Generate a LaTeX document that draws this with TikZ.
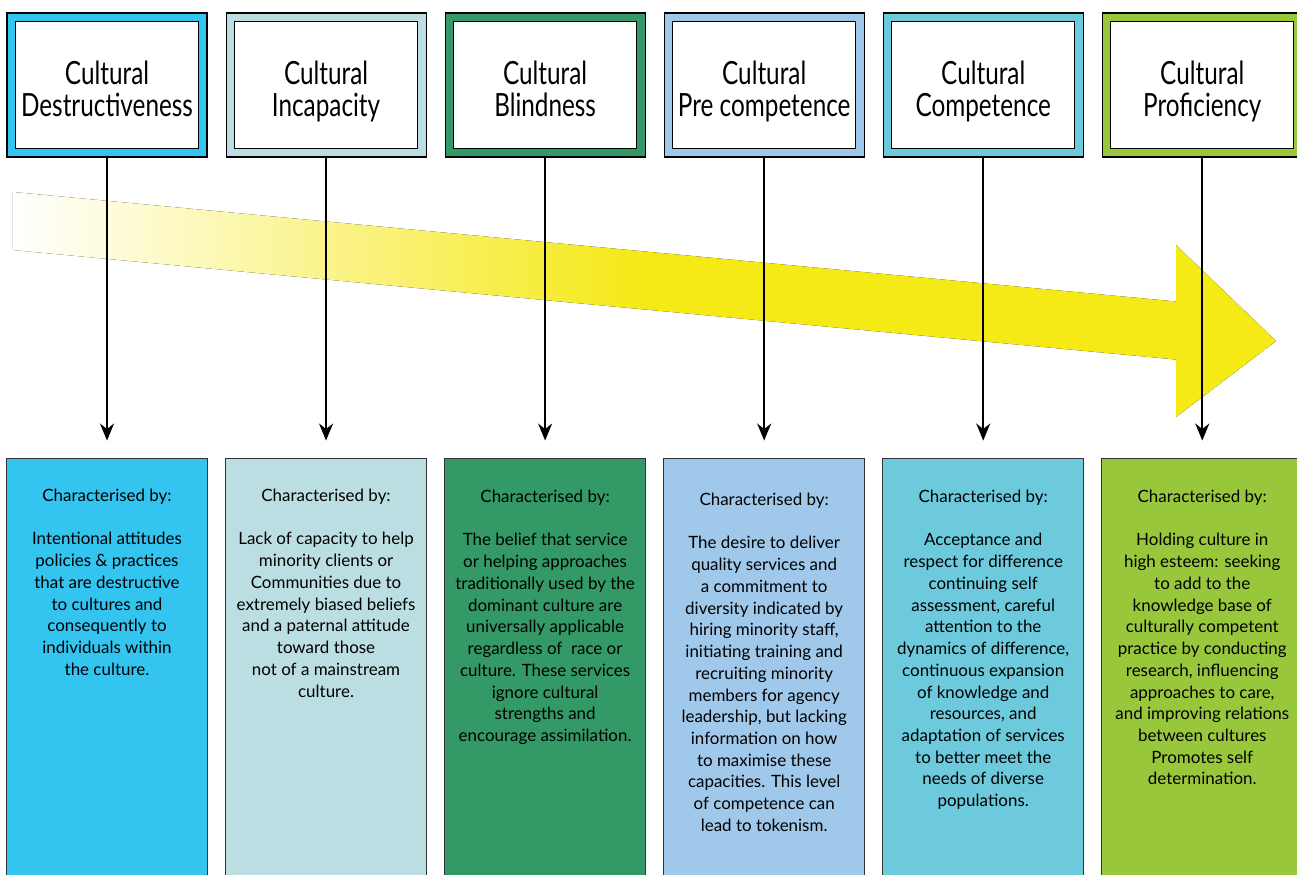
\documentclass[tikz,border=0pt]{standalone}
\usepackage{fontspec}
\setmainfont{Lato}
\newfontfamily\titlefont[FakeStretch=0.76]{Lato}
\usetikzlibrary{positioning,arrows.meta}

\definecolor{destrcol}{HTML}{33C4F0}
\definecolor{incapcol}{HTML}{BBDEE2}
\definecolor{blindcol}{HTML}{339966}
\definecolor{precompcol}{HTML}{9FC8EA}
\definecolor{compcol}{HTML}{6CCADC}
\definecolor{profcol}{HTML}{99C73C}
\definecolor{arrowyellow}{HTML}{F5E916}

\pgfdeclarehorizontalshading{yellowfade}{100bp}{color(0bp)=(white); color(25bp)=(white); color(50bp)=(arrowyellow); color(100bp)=(arrowyellow)}

\begin{document}
\begin{tikzpicture}[node distance=0.36cm,
  frame/.style={draw,line width=0.6pt,minimum width=4cm,minimum height=2.88cm,inner sep=0pt},
  whitebox/.style={draw,fill=white,line width=0.6pt},
  title/.style={align=center,inner sep=0pt,yshift=-0.11cm,text depth=0.25em,font=\titlefont\fontsize{18.2pt}{18.2pt}\selectfont},
  column/.style={draw=black!80,line width=0.6pt,minimum width=4.02cm,minimum height=8.6cm,inner sep=0pt},
  desc/.style={align=center,inner sep=0pt,font=\fontsize{9.64pt}{12.37pt}\selectfont},
  conn/.style={-{Stealth[length=0.34cm,width=0.28cm]},line width=1.1pt}]

\useasboundingbox (0,0) rectangle (25.94,-17.48);

% big yellow arrow
\fill[shading=yellowfade] (0.26,-3.84) -- (23.52,-6.03) -- (23.52,-4.90) -- (25.52,-6.82)
  -- (23.52,-8.34) -- (23.52,-7.19) -- (0.26,-5.00) -- cycle;

% top frames
\node[frame,fill=destrcol] (f1) at (2.14,-1.70) {};
\node[frame,fill=incapcol] (f2) [right=of f1] {};
\node[frame,fill=blindcol] (f3) [right=of f2] {};
\node[frame,fill=precompcol] (f4) [right=of f3] {};
\node[frame,fill=compcol] (f5) [right=of f4] {};
\node[frame,fill=profcol] (f6) [right=of f5] {};

\draw[whitebox] ([shift={(0.18,-0.18)}]f1.north west) rectangle ([shift={(-0.18,0.18)}]f1.south east);
\draw[whitebox] ([shift={(0.18,-0.18)}]f2.north west) rectangle ([shift={(-0.18,0.18)}]f2.south east);
\draw[whitebox] ([shift={(0.18,-0.18)}]f3.north west) rectangle ([shift={(-0.18,0.18)}]f3.south east);
\draw[whitebox] ([shift={(0.18,-0.18)}]f4.north west) rectangle ([shift={(-0.18,0.18)}]f4.south east);
\draw[whitebox] ([shift={(0.18,-0.18)}]f5.north west) rectangle ([shift={(-0.18,0.18)}]f5.south east);
\draw[whitebox] ([shift={(0.18,-0.18)}]f6.north west) rectangle ([shift={(-0.18,0.18)}]f6.south east);

\node[title] (t1) at (f1) {Cultural\\Destructiveness};
\node[title] (t2) at (f2) {Cultural\\Incapacity};
\node[title] (t3) at (f3) {Cultural\\Blindness};
\node[title] (t4) at (f4) {Cultural\\Pre competence};
\node[title] (t5) at (f5) {Cultural\\Competence};
\node[title] (t6) at (f6) {Cultural\\Proficiency};

% columns
\node[column,fill=destrcol] (b1) [below=6cm of f1] {};
\node[column,fill=incapcol] (b2) [below=6cm of f2] {};
\node[column,fill=blindcol] (b3) [below=6cm of f3] {};
\node[column,fill=precompcol] (b4) [below=6cm of f4] {};
\node[column,fill=compcol] (b5) [below=6cm of f5] {};
\node[column,fill=profcol] (b6) [below=6cm of f6] {};

\node[desc] (d1) [below=0.62cm of b1.north] {Characterised by:\\[12.37pt]
  Intentional attitudes\\policies \& practices\\that are destructive\\to cultures and\\consequently to\\individuals within\\the culture.};
\node[desc] (d2) [below=0.62cm of b2.north] {Characterised by:\\[12.37pt]
  Lack of capacity to help\\minority clients or\\Communities due to\\extremely biased beliefs\\and a paternal attitude\\toward those\\not of a mainstream\\culture.};
\node[desc] (d3) [below=0.64cm of b3.north] {Characterised by:\\[12.37pt]
  The belief that service\\or helping approaches\\traditionally used by the\\dominant culture are\\universally applicable\\regardless of~ race or\\culture. These services\\ignore cultural\\strengths and\\encourage assimilation.};
\node[desc] (d4) [below=0.70cm of b4.north] {Characterised by:\\[12.37pt]
  The desire to deliver\\quality services and\\a commitment to\\diversity indicated by\\hiring minority staff,\\initiating training and\\recruiting minority\\members for agency\\leadership, but lacking\\information on how\\to maximise these\\capacities. This level\\of competence can\\lead to tokenism.};
\node[desc] (d5) [below=0.64cm of b5.north] {Characterised by:\\[12.37pt]
  Acceptance and\\respect for difference\\continuing self\\assessment, careful\\attention to the\\dynamics of difference,\\continuous expansion\\of knowledge and\\resources, and\\adaptation of services\\to better meet the\\needs of diverse\\populations.};
\node[desc] (d6) [below=0.64cm of b6.north] {Characterised by:\\[12.37pt]
  Holding culture in\\high esteem: seeking\\to add to the\\knowledge base of\\culturally competent\\practice by conducting\\research, influencing\\approaches to care,\\and improving relations\\between cultures\\Promotes self\\determination.};

% connectors
\draw[conn,shorten >=0.34cm] (f1) -- (b1);
\draw[conn,shorten >=0.34cm] (f2) -- (b2);
\draw[conn,shorten >=0.34cm] (f3) -- (b3);
\draw[conn,shorten >=0.34cm] (f4) -- (b4);
\draw[conn,shorten >=0.34cm] (f5) -- (b5);
\draw[conn,shorten >=0.34cm] (f6) -- (b6);
\end{tikzpicture}
\end{document}
